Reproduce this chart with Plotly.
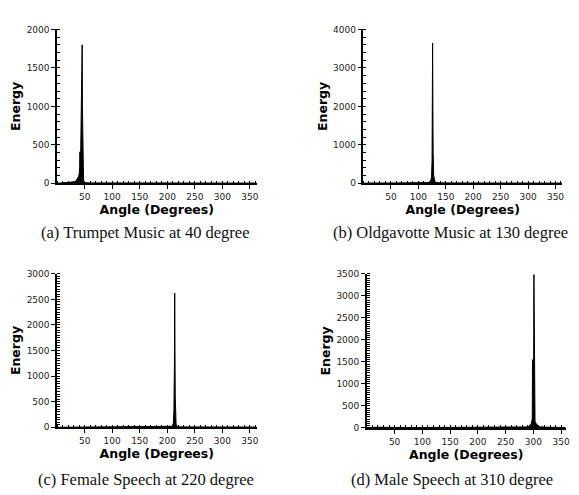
import plotly.graph_objects as go

# ---- data (angle in degrees, energy) ----
a_angle = [0, 10, 20, 28, 32, 35, 37, 39, 40, 41, 41.5, 42, 42.5, 43, 43.5, 44, 44.5, 45, 45.5, 46, 46.5, 47, 47.5, 48, 50, 60, 100, 150, 200, 250, 300, 362]
a_energy = [0, 5, 8, 10, 20, 40, 60, 90, 120, 200, 410, 150, 250, 500, 900, 1200, 700, 1400, 1800, 1000, 600, 300, 80, 20, 8, 5, 5, 4, 4, 4, 4, 3]

b_angle = [0, 10, 50, 100, 115, 120, 122, 124, 125, 125.5, 126, 126.5, 127, 128, 130, 132, 140, 150, 160, 200, 300, 362]
b_energy = [0, 8, 8, 10, 12, 20, 50, 150, 600, 1700, 3650, 2000, 800, 200, 60, 20, 12, 18, 10, 8, 6, 5]

c_angle = [0, 50, 100, 150, 205, 209, 211, 212, 213, 213.5, 214, 214.5, 215, 216, 218, 222, 230, 300, 362]
c_energy = [0, 6, 6, 6, 10, 20, 80, 300, 1200, 2620, 1500, 600, 200, 60, 20, 10, 8, 6, 5]

d_angle = [0, 10, 20, 30, 40, 60, 100, 150, 200, 250, 280, 290, 294, 296, 298, 298.5, 299, 299.5, 300, 300.5, 301, 301.5, 302, 303, 305, 307, 308, 310, 320, 340, 358]
d_energy = [0, 15, 20, 15, 10, 12, 10, 10, 8, 10, 15, 25, 60, 90, 200, 1550, 1200, 1500, 900, 1400, 3480, 1200, 400, 150, 100, 80, 50, 30, 20, 15, 10]

captions = ["(a) Trumpet Music at 40 degree", "(b) Oldgavotte Music at 130 degree",
            "(c) Female Speech at 220 degree", "(d) Male Speech at 310 degree"]
x_ticks = [50, 100, 150, 200, 250, 300, 350]

W, H = 579, 495
def px(x): return x / W
def py(y): return 1 - y / H

panels = [
    dict(x=a_angle, y=a_energy, xd=[px(57.5), px(258.3)], yd=[py(182), py(25)], xr=[0, 362], yr=[0, 2000], dy=500, mdy=100),
    dict(x=b_angle, y=b_energy, xd=[px(366), px(566)], yd=[py(182), py(25)], xr=[0, 362], yr=[0, 4000], dy=1000, mdy=200),
    dict(x=c_angle, y=c_energy, xd=[px(57.5), px(258.3)], yd=[py(431), py(274.3)], xr=[0, 362], yr=[0, 3000], dy=500, mdy=50),
    dict(x=d_angle, y=d_energy, xd=[px(369.4), px(569.5)], yd=[py(431.7), py(274.3)], xr=[0, 358], yr=[0, 3500], dy=500, mdy=50),
]

fig = go.Figure()
layout = dict(width=W, height=H, margin=dict(l=0, r=0, t=0, b=0),
              paper_bgcolor="white", plot_bgcolor="white", showlegend=False)

tickfont = dict(family="DejaVu Sans", size=9, color="#222")
titlefont = dict(family="DejaVu Sans", size=12.5, color="black", weight="bold")

for i, p in enumerate(panels):
    n = "" if i == 0 else str(i + 1)
    fig.add_trace(go.Scatter(x=p["x"], y=p["y"], mode="lines", fill="tozeroy",
                             fillcolor="black", line=dict(color="black", width=1),
                             xaxis="x" + n, yaxis="y" + n))
    layout["xaxis" + n] = dict(
        domain=p["xd"], range=p["xr"], anchor="y" + n, tickvals=x_ticks,
        showgrid=False, zeroline=False, showline=True, linecolor="black", linewidth=1.5,
        ticks="outside", ticklen=4, tickcolor="black", tickfont=tickfont,
        minor=dict(dtick=10, tick0=0, ticks="inside", ticklen=3, tickcolor="black", showgrid=False),
        title=dict(text="Angle (Degrees)", font=titlefont, standoff=4))
    layout["yaxis" + n] = dict(
        domain=p["yd"], range=p["yr"], anchor="x" + n, dtick=p["dy"], tick0=0,
        showgrid=False, zeroline=False, showline=True, linecolor="black", linewidth=1.5,
        ticks="outside", ticklen=4, tickcolor="black", tickfont=tickfont,
        minor=dict(dtick=p["mdy"], tick0=0, ticks="inside", ticklen=3, tickcolor="black", showgrid=False),
        title=dict(text="Energy", font=titlefont, standoff=3))

cap_pos = [(147, 232), (454, 232), (147, 484), (455, 484)]
annotations = []
for cap, (cx, cy) in zip(captions, cap_pos):
    annotations.append(dict(text=cap, x=px(cx), y=py(cy), xref="paper", yref="paper",
                            xanchor="center", yanchor="middle", showarrow=False,
                            font=dict(family="Liberation Serif", size=16.5, color="#111")))
layout["annotations"] = annotations
fig.update_layout(**layout)
fig.write_html("out.html")
